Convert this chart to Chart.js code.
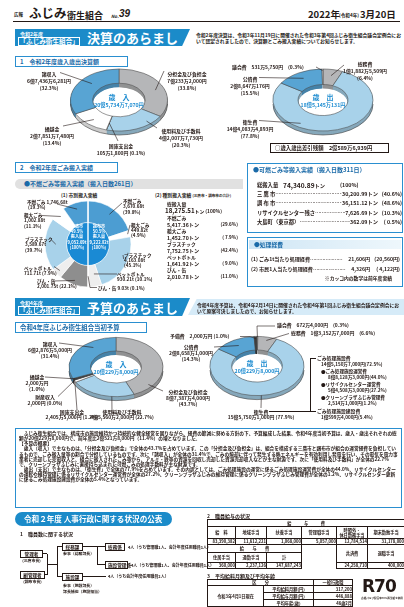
<!DOCTYPE html>
<html lang="ja"><head><meta charset="utf-8">
<script src="https://cdn.jsdelivr.net/npm/chart.js"></script>
<style>
html,body{margin:0;padding:0;background:#fff;}
#page{position:relative;width:404px;height:607px;overflow:hidden;font-family:"Noto Sans CJK JP","Noto Sans",sans-serif;color:#231815;}
canvas{position:absolute;}
table{border-collapse:collapse;table-layout:fixed;font-weight:700;}
td{border:0.6px solid #231815;text-align:center;padding:0;line-height:1.05;overflow:hidden;}
</style></head><body><div id="page"></div>
<script>
// ================= DATA =================
const rev20Cats = ['分担金及び負担金','使用料及び手数料','国庫支出金','繰越金','諸収入'];
const rev20Amt  = ['7億233万2,000円','4億2,007万7,730円','105万1,800円','2億7,851万7,480円','6億7,436万6,281円'];
const rev20Pct  = [33.8, 20.3, 0.1, 13.4, 32.3];
const rev20Total = '20億5,734万7,070円';

const exp20Cats = ['総務費','衛生費','公債費','議会費'];
const exp20Amt  = ['1億1,882万5,509円','14億4,083万4,893円','2億8,647万176円','531万5,750円'];
const exp20Pct  = [6.4, 77.8, 15.5, 0.3];
const exp20Total = '18億5,145万131円';
const balance20 = '2億589万6,939円';

const wasteCats = ['不燃ごみ','粗大ごみ','プラスチック','ペットボトル','びん・缶'];
const chofuTon  = ['3,670.68','449.82','4,163.08','930.21','9.03'];
const chofuPct  = [39.8, 4.9, 45.1, 10.1, 0.1];
const mitakaTon = ['1,746.68','1,002.88','3,589.67','711.71','2,001.75'];
const mitakaPct = [19.3, 11.1, 39.7, 7.9, 22.1];
const cityNames = ['三鷹市','調布市'];
const cityShare = [49.5, 50.5];
const cityTon   = ['9,052.69','9,222.82'];
const wasteTotalTon = '18,275.51';
const wasteSumTon = ['5,417.36','1,452.70','7,752.75','1,641.92','2,010.78'];
const wasteSumPct = [29.6, 7.9, 42.4, 9.0, 11.0];

const burnCats = ['三 鷹 市','調 布 市','リサイクルセンター残さ','大島町（東京都）'];
const burnTon  = ['30,200.99','36,151.12','7,626.69','362.09'];
const burnPct  = [40.6, 48.6, 10.3, 0.5];
const burnTotal = '74,340.89';

const costCats = ['(1) ごみ1t当たり処理経費','(2) 市民1人当たり処理経費'];
const costNow  = ['21,606円','4,326円'];
const costPrev = ['20,560円',' 4,122円'];

const rev22Cats = ['分担金及び負担金','使用料及び手数料','国庫支出金','財産収入','繰越金','諸収入'];
const rev22Amt  = ['8億7,387万4,000円','4億5,560万2,000円','2,405万5,000円','2,000円','2,000万円','6億2,876万5,000円'];
const rev22Pct  = [43.7, 22.7, 1.2, 0.0, 1.0, 31.4];
const budgetTotal = '20億229万8,000円';

const exp22Cats = ['議会費','総務費','衛生費','公債費','予備費'];
const exp22Amt  = ['672万4,000円','1億3,152万7,000円','15億5,750万1,000円','2億8,658万1,000円','2,000万円'];
const exp22Pct  = [0.3, 6.6, 77.9, 14.3, 1.0];
const sanitItems = ['ごみ処理施設費','ごみ処理施設建設費'];
const sanitAmt   = ['14億5,150万7,000円','1億599万4,000円'];
const sanitPct   = [72.5, 5.4];
const sanitSub    = ['ごみ処理施設運営費','リサイクルセンター運営費','クリーンプラザふじみ管理費'];
const sanitSubAmt = ['8億8,128万3,000円','5億4,508万3,000円','2,514万1,000円'];
const sanitSubPct = [44.0, 27.2, 1.2];

const payItems1 = ['給　料','地域手当','扶養手当','管理職手当','時間外・<br>休日勤務手当','期末勤勉手当'];
const payVals1  = ['83,390,382','11,612,221','1,068,000','5,057,000','12,784,514','31,178,000'];
const payItems2 = ['住居手当','通勤手当','計'];
const payVals2  = ['360,000','2,237,126','147,687,243'];
const payItems3 = ['共済費','退職手当'];
const payVals3  = ['24,258,710','400,000'];
const avgItems = ['平均給料月額(円)','平均給与月額(円)','平均年齢(歳)'];
const avgVals  = ['317,200','446,888','46歳2月'];

// ================= HELPERS =================
const page = document.getElementById('page');
const INK = '#231815', BLUE = '#1b8bc9', DBLUE = '#1a6aa8';
const GREY = '#b5b6b8', LBLUE = '#a8d2ea', MBLUE = '#58a4d3', WHITE = '#ffffff', DARK = '#3c3c3c';
function el(css, html){ const d=document.createElement('div'); Object.assign(d.style,{position:'absolute'},css); if(html!=null) d.innerHTML=html; page.appendChild(d); return d; }
function T(x,y,html,fs,o={}){
  const css={left:x+'px',top:y+'px',fontSize:fs+'px',lineHeight:(o.lh||fs)+'px',whiteSpace:'nowrap',fontWeight:o.w||700,color:o.c||INK};
  if(o.center){css.transform='translateX(-50%)';css.textAlign='center';}
  if(o.right){css.transform='translateX(-100%)';css.textAlign='right';}
  Object.assign(css,o.css||{});
  return el(css,html);
}
function L(x1,y1,x2,y2,c=INK,w=0.6){
  if (y1===y2) el({left:Math.min(x1,x2)+'px',top:(y1-w/2)+'px',width:Math.abs(x2-x1)+'px',height:w+'px',background:c});
  else el({left:(x1-w/2)+'px',top:Math.min(y1,y2)+'px',width:w+'px',height:Math.abs(y2-y1)+'px',background:c});
}
function B(x,y,w,h,css){ return el(Object.assign({left:x+'px',top:y+'px',width:w+'px',height:h+'px',boxSizing:'border-box'},css)); }
const pct = v => '(' + v.toFixed(1) + '%)';

function shade(hex,f){ const n=parseInt(hex.slice(1),16); return 'rgb('+Math.round((n>>16)*f)+','+Math.round(((n>>8)&255)*f)+','+Math.round((n&255)*f)+')'; }

function makePlugin(o){
  return {
    id:'pie3d',
    beforeDatasetsDraw(chart){
      const arcs=chart.getDatasetMeta(0).data, ctx=chart.ctx, a0=arcs[0];
      const cx=a0.x, cy=a0.y, k=o.k||1;
      ctx.save();
      ctx.translate(cx,cy); ctx.scale(1,k); ctx.translate(-cx,-cy);
      const bg=chart.data.datasets[0].backgroundColor;
      if(o.depth){
        for(let d=o.depth; d>0; d-=0.5){
          arcs.forEach((a,i)=>{
            if(a.endAngle-a.startAngle<=0) return;
            ctx.beginPath();
            ctx.arc(a.x,a.y+d/k,a.outerRadius,a.startAngle,a.endAngle);
            ctx.arc(a.x,a.y+d/k,a.innerRadius,a.endAngle,a.startAngle,true);
            ctx.closePath(); ctx.fillStyle=shade(bg[i],0.8); ctx.fill();
          });
        }
        ctx.beginPath(); ctx.arc(cx,cy+o.depth/k,a0.outerRadius,0,Math.PI);
        ctx.lineWidth=0.8; ctx.strokeStyle='#4d4d4d'; ctx.stroke();
      }
      if(o.hub){ ctx.beginPath(); ctx.arc(cx,cy,a0.innerRadius,0,Math.PI*2); ctx.fillStyle=o.hub; ctx.fill(); }
    },
    afterDatasetsDraw(chart){
      const ctx=chart.ctx; ctx.restore();
      const arcs=chart.getDatasetMeta(0).data, a0=arcs[0], cx=a0.x, cy=a0.y, k=o.k||1;
      if(o.split){ ctx.save(); ctx.strokeStyle='#fff'; ctx.lineWidth=o.split; ctx.beginPath();
        ctx.moveTo(cx,cy-a0.outerRadius-1); ctx.lineTo(cx,cy+a0.outerRadius+1); ctx.stroke(); ctx.restore(); }
      (o.leaders||[]).forEach(ld=>{
        const a=arcs[ld.i];
        const th=a.startAngle+(a.endAngle-a.startAngle)*(ld.f==null?0.5:ld.f);
        const r=a.innerRadius+(a.outerRadius-a.innerRadius)*(ld.r==null?0.7:ld.r);
        ctx.save(); ctx.strokeStyle=INK; ctx.lineWidth=0.6; ctx.beginPath();
        ctx.moveTo(cx+Math.cos(th)*r, cy+Math.sin(th)*r*k);
        ld.p.forEach(([x,y])=>ctx.lineTo(x-o.ox,y-o.oy));
        ctx.stroke(); ctx.restore();
      });
    }
  };
}
function donut(cfg){
  const cv=document.createElement('canvas');
  const x=cfg.cx-cfg.w/2, y=cfg.cy-cfg.h/2;
  cv.width=cfg.w; cv.height=cfg.h;
  Object.assign(cv.style,{left:x+'px',top:y+'px',width:cfg.w+'px',height:cfg.h+'px'});
  page.appendChild(cv);
  const o=Object.assign({ox:x,oy:y},cfg);
  return new Chart(cv,{
    type:'doughnut',
    data:{labels:cfg.labels,datasets:[{data:cfg.data,backgroundColor:cfg.colors,borderColor:cfg.bc||'#4d4d4d',borderWidth:cfg.bw==null?0.7:cfg.bw}]},
    options:{responsive:false,animation:false,events:[],radius:cfg.R,cutout:cfg.cut,layout:{padding:0},
      plugins:{legend:{display:false},tooltip:{enabled:false}}},
    plugins:[makePlugin(o)]
  });
}

// ================= HEADER =================
T(14,12,'広報',4.5);
T(29,7,'ふじみ',12.5);
T(67,11,'衛生組合',9);
T(111,14,'No.',4.5,{css:{fontStyle:'italic'}});
T(119,9,'39',10,{css:{fontStyle:'italic',fontFamily:'"Liberation Sans",sans-serif'}});
T(308,10,'2022年',9.5);
T(339,13,'(令和4年)',4.6);
T(360,10,'3月20日',9.5);
L(13,21.5,400,21.5,INK,1.2);

// Banner 1
B(15,29,175,17,{background:BLUE,clipPath:'polygon(0 0,100% 0,95.5% 100%,0 100%)'});
T(20,30.5,'令和2年度',5,{c:'#fff'});
T(18,37,'「ふじみ衛生組合」',6.6,{c:'#fff',css:{border:'0.6px solid #fff',padding:'0 0.5px'}});
T(87,31,'決算のあらまし',13,{c:'#fff'});
T(196,31.5,'令和2年度決算は、令和3年11月19日に開催された令和3年第4回ふじみ衛生組合議会定例会において認定されましたので、決算額とごみ搬入実績についてお知らせします。',4.8,{lh:6,css:{whiteSpace:'normal',width:'206px'}});

// Section 1
T(15,56,'1　令和2年度歳入歳出決算額',6,{c:DBLUE,css:{border:'0.8px solid #2a8fd0',padding:'1.5px 4px',width:'113px',boxSizing:'border-box'}});

// Chart 1 – 2020 revenue
donut({cx:119,cy:100,w:200,h:110,R:48.5,cut:'54%',k:0.64,depth:4,labels:rev20Cats,data:rev20Pct,
  colors:[GREY,LBLUE,WHITE,WHITE,MBLUE],
  leaders:[{i:4,f:.6,r:.5,p:[[60,72.5]]},{i:0,f:.55,r:.6,p:[[164,71]]},{i:1,f:.25,r:.75,p:[[157,128]]},
           {i:2,f:.5,r:.5,p:[[118,141]]},{i:3,f:.5,r:.6,p:[[63,126]]}]});
const lab3 = (cx,top,cats,amts,pcts,i)=>T(cx,top,cats[i]+'<br>'+amts[i]+'<br>'+pct(pcts[i]),4.9,{lh:7,center:true});
lab3(49,69.5,rev20Cats,rev20Amt,rev20Pct,4);
lab3(187,69.5,rev20Cats,rev20Amt,rev20Pct,0);
lab3(181,126.5,rev20Cats,rev20Amt,rev20Pct,1);
lab3(52,125,rev20Cats,rev20Amt,rev20Pct,3);
T(121,141.5,rev20Cats[2]+'<br>'+rev20Amt[2]+' '+pct(rev20Pct[2]),4.9,{lh:7,center:true});
T(119,93.5,'歳　入',7,{center:true,c:'#1b8bd0'});
T(119,101.5,rev20Total,5.2,{center:true,c:'#1b8bd0'});

// Chart 2 – 2020 expenditure
donut({cx:323,cy:100,w:160,h:110,R:50,cut:'50%',k:0.62,depth:4,labels:exp20Cats,data:exp20Pct,
  colors:[GREY,LBLUE,MBLUE,WHITE],
  leaders:[{i:3,f:.5,r:.9,p:[[316,67]]},{i:0,f:.5,r:.6,p:[[344,65]]},{i:2,f:.5,r:.6,p:[[259,77.5]]},{i:1,f:.67,r:.75,p:[[259,120.5]]}]});
T(232,64.5,exp20Cats[3]+'　'+exp20Amt[3]+'　'+pct(exp20Pct[3]),4.9);
lab3(365,60,exp20Cats,exp20Amt,exp20Pct,0);
lab3(250,74.5,exp20Cats,exp20Amt,exp20Pct,2);
lab3(250,117.5,exp20Cats,exp20Amt,exp20Pct,1);
T(323,93.5,'歳　出',7,{center:true,c:'#1b8bd0'});
T(323,101.5,exp20Total,5.2,{center:true,c:'#1b8bd0'});
T(270,143,'○歳入歳出差引残額　'+balance20,5.4,{css:{border:'0.7px solid #231815',padding:'1.5px 4px',width:'119px',boxSizing:'border-box'}});

// Section 2
T(15,162,'2　令和2年度ごみ搬入実績',6,{c:DBLUE,css:{border:'0.8px solid #2a8fd0',padding:'1.5px 4px',width:'103px',boxSizing:'border-box'}});
B(15,179,228,10,{background:'#e1e1e1',borderRadius:'5px 0 0 5px'});
T(24,181,'●不燃ごみ等搬入実績（搬入日数261日）',6,{c:DBLUE});
T(61,193,'(1) 市別搬入実績',4.8);
T(155,193,'(2) 種別搬入実績 <span style="font-size:3.6px">(三鷹市・調布市の合計)</span>',4.8);

// Waste pie (right half = 調布市, left half = 三鷹市)
const wasteColors=['#4c9dd2','#ffffff','#a8d2ea','#eeeeee','#8e8e8e'];
donut({cx:88,cy:244,w:150,h:100,R:43,cut:'50%',k:1,depth:0,hub:'#1a8ad4',split:1.4,bc:'#ffffff',bw:0.6,
  labels:[...wasteCats,...wasteCats.slice().reverse()],
  data:[...chofuPct,...mitakaPct.slice().reverse()],
  colors:[...wasteColors,...wasteColors.slice().reverse()],
  leaders:[{i:9,f:.5,r:.7,p:[[57,204]]},{i:8,f:.5,r:.8,p:[[42,215.5]]},{i:7,f:.5,r:.5,p:[[51,239.5]]},
           {i:6,f:.5,r:.8,p:[[54,266.5]]},{i:5,f:.5,r:.8,p:[[53,281]]},
           {i:0,f:.5,r:.7,p:[[122,203]]},{i:1,f:.5,r:.9,p:[[130,225]]},{i:2,f:.4,r:.8,p:[[123,255]]},
           {i:3,f:.4,r:.42,p:[[117,274]]},{i:4,f:.5,r:.5,p:[[90,287.5],[97,287.5]]}]});
const WF=4.6, WL=5.4;
T(27,200,wasteCats[0]+' '+mitakaTon[0]+'t<br>&nbsp;'+pct(mitakaPct[0]),WF,{lh:WL});
T(24,213,wasteCats[1]+'<br>'+mitakaTon[1]+'t<br>'+pct(mitakaPct[1]),WF,{lh:WL});
T(25,237,wasteCats[2]+'<br>'+mitakaTon[2]+'t<br>'+pct(mitakaPct[2]),WF,{lh:WL});
T(24,265.5,wasteCats[3]+'<br>'+mitakaTon[3]+'t '+pct(mitakaPct[3]),WF,{lh:WL});
T(37,279,wasteCats[4]+'<br>'+mitakaTon[4]+'t '+pct(mitakaPct[4]),WF,{lh:WL});
T(123,199,wasteCats[0]+'<br>'+chofuTon[0]+'t<br>'+pct(chofuPct[0]),WF,{lh:WL});
T(131,222.5,wasteCats[1]+'<br>'+chofuTon[1]+'t<br>'+pct(chofuPct[1]),WF,{lh:WL});
T(124,252.5,wasteCats[2]+'<br>'+chofuTon[2]+'t<br>'+pct(chofuPct[2]),WF,{lh:WL});
T(117,271.5,wasteCats[3]+'<br>'+chofuTon[3]+'t '+pct(chofuPct[3]),WF,{lh:WL});
T(98,285.5,wasteCats[4]+' '+chofuTon[4]+'t '+pct(chofuPct[4]),WF);
T(77,224,cityNames[0]+'<br>'+cityShare[0]+'%<br>搬入量<br>'+cityTon[0]+'t<br>(100%)',4.1,{lh:5.2,center:true,c:'#fff'});
T(99,224,cityNames[1]+'<br>'+cityShare[1]+'%<br>搬入量<br>'+cityTon[1]+'t<br>(100%)',4.1,{lh:5.2,center:true,c:'#fff'});

// list (2)
T(167,202,'総搬入量',4.8);
T(165,207.5,wasteTotalTon+'<span style="font-size:4.8px">トン (100%)</span>',6.2);
wasteCats.forEach((c,i)=>{
  const y=216+i*13;
  T(167,y,c,4.8);
  T(167,y+6,wasteSumTon[i]+'トン',5.2);
  T(238,y+6.4,'('+(wasteSumPct[i]<10?'&nbsp;':'')+wasteSumPct[i].toFixed(1)+'%)',4.6,{right:true});
});

// Burnable box
B(247,163,156,70,{border:'1.4px solid #2a8fd0'});
T(253,167,'●可燃ごみ等搬入実績（搬入日数311日）',6,{c:DBLUE});
T(257,182.5,'総搬入量',5.3);
T(283,181.5,burnTotal+'<span style="font-size:5.3px">トン</span>',6.6);
T(340,182.5,'(100%)',5.3);
burnCats.forEach((c,i)=>{
  const y=191+i*9.3;
  el({left:'257px',top:y+'px',width:'145px',height:'6px',display:'flex',fontSize:'5.3px',lineHeight:'6px',fontWeight:700,whiteSpace:'nowrap',color:INK},
    '<span>'+c+'</span><span style="flex:1;overflow:hidden;letter-spacing:-0.5px">……………………………………</span><span>'+burnTon[i]+'トン</span><span style="width:24px;text-align:right">('+(burnPct[i]<10?'&nbsp;':'')+burnPct[i].toFixed(1)+'%)</span>');
});

// Cost box
B(247,237,156,50,{border:'1.4px solid #2a8fd0'});
B(249,240,152,9,{background:'linear-gradient(90deg,#cfe6f5,#eef7fc)'});
T(254,241.5,'●処理経費',5.8,{c:DBLUE});
costCats.forEach((c,i)=>{
  el({left:'251px',top:(256+i*9.5)+'px',width:'149px',height:'6px',display:'flex',fontSize:'5.1px',lineHeight:'6px',fontWeight:700,whiteSpace:'nowrap',color:INK},
    '<span>'+c+'</span><span style="flex:1;overflow:hidden;letter-spacing:-0.5px">…………………</span><span>'+costNow[i]+'</span><span style="width:30px;text-align:right">('+costPrev[i]+')</span>');
});
T(392,276,'※カッコ内の数字は前年度実績',4.8,{right:true});

// Banner 2
B(15,298,175,18,{background:BLUE,clipPath:'polygon(0 0,100% 0,95.5% 100%,0 100%)'});
B(188,299,216,16,{background:'#d6ebf8',clipPath:'polygon(4% 0,100% 0,100% 100%,0 100%)'});
T(20,299.5,'令和4年度',5,{c:'#fff'});
T(18,306,'「ふじみ衛生組合」',6.6,{c:'#fff',css:{border:'0.6px solid #fff',padding:'0 0.5px'}});
T(87,300.5,'予算のあらまし',13,{c:'#fff'});
T(197,301.5,'令和4年度予算は、令和4年2月14日に開催された令和4年第1回ふじみ衛生組合議会定例会において原案可決しましたので、お知らせします。',4.8,{lh:6,css:{whiteSpace:'normal',width:'204px'}});
T(15,322,'令和4年度ふじみ衛生組合当初予算',6.4,{c:DBLUE,css:{border:'0.8px solid #2a8fd0',padding:'1.5px 4px',width:'132px',boxSizing:'border-box'}});

// Chart 3 – 2022 budget revenue
donut({cx:116,cy:367,w:200,h:104,R:47,cut:'54%',k:0.63,depth:4,labels:rev22Cats,data:rev22Pct,
  colors:[GREY,LBLUE,WHITE,WHITE,DARK,MBLUE],
  leaders:[{i:5,f:.68,r:.6,p:[[59,343]]},{i:4,f:.5,r:.9,p:[[45,377]]},{i:3,f:.5,r:.95,p:[[58,396.5]]},
           {i:2,f:.5,r:1,p:[[77,410]]},{i:1,f:.34,r:1,p:[[112,413],[119,413]]},{i:0,f:.83,r:.8,p:[[163,391]]}]});
T(50,340.5,rev22Cats[5]+'<br>'+rev22Amt[5]+'<br>'+pct(rev22Pct[5]),4.9,{lh:6,center:true});
T(37,374,rev22Cats[4]+'<br>'+rev22Amt[4]+'<br>'+pct(rev22Pct[4]),4.9,{lh:6,center:true});
T(45,394,rev22Cats[3]+'<br>'+rev22Amt[3]+' '+pct(rev22Pct[3]),4.9,{lh:6,center:true});
T(72,408.5,rev22Cats[2]+'<br>'+rev22Amt[2]+' '+pct(rev22Pct[2]),4.9,{lh:5.5,center:true});
T(122,408.5,rev22Cats[1]+'<br>'+rev22Amt[1]+' '+pct(rev22Pct[1]),4.9,{lh:5.5,center:true});
T(188,389,rev22Cats[0]+'<br>'+rev22Amt[0]+'<br>'+pct(rev22Pct[0]),4.9,{lh:5.8,center:true});
T(116,360.5,'歳　入',7,{center:true,c:'#1b8bd0'});
T(116,368.5,budgetTotal,5.2,{center:true,c:'#1b8bd0'});

// Chart 4 – 2022 budget expenditure
donut({cx:257,cy:366,w:200,h:104,R:47,cut:'54%',k:0.63,depth:4,labels:exp22Cats,data:exp22Pct,
  colors:[WHITE,GREY,LBLUE,MBLUE,DARK],
  leaders:[{i:0,f:.5,r:.95,p:[[257,326],[275,326]]},{i:1,f:.5,r:.75,p:[[289,333.5]]},{i:4,f:.5,r:.85,p:[[250,336.5],[240,336.5]]},
           {i:3,f:.5,r:.55,p:[[214,347]]},{i:2,f:.535,r:1,p:[[261,408]]}]});
T(277,323,exp22Cats[0]+'　'+exp22Amt[0]+'　'+pct(exp22Pct[0]),4.9);
T(291,331,exp22Cats[1]+'　'+exp22Amt[1]+'　'+pct(exp22Pct[1]),4.9);
T(170,334,exp22Cats[4]+'　'+exp22Amt[4]+' '+pct(exp22Pct[4]),4.9);
T(191,344,exp22Cats[3]+'<br>'+exp22Amt[3]+'<br>'+pct(exp22Pct[3]),4.9,{lh:6,center:true});
T(261,408.5,exp22Cats[2]+'<br>'+exp22Amt[2]+' '+pct(exp22Pct[2]),4.9,{lh:5.5,center:true});
T(257,359.5,'歳　出',7,{center:true,c:'#1b8bd0'});
T(257,367.5,budgetTotal,5.2,{center:true,c:'#1b8bd0'});
// 衛生費 breakdown bracket
L(310,358.5,310,411.5); L(310,358.5,316,358.5); L(269,411.5,316,411.5);
T(317,356,sanitItems[0],4.8);
T(321,362,sanitAmt[0]+pct(sanitPct[0]),4.6);
sanitSub.forEach((s,i)=>{
  T(321,369+i*13,'●'+s,4.6);
  T(328,375+i*13,sanitSubAmt[i]+pct(sanitSubPct[i]),4.6);
});
T(317,409,sanitItems[1],4.8);
T(321,415,sanitAmt[1]+pct(sanitPct[1]),4.6);

// Text box
B(15,428,387,80,{border:'1px solid #2a8fd0'});
T(19,431,'<div style="text-indent:1em">ふじみ衛生組合では、構成市の施設維持かつ持続的な健全経営を図りながら、経費の節減に努める方針の下、予算編成した結果、令和4年度当初予算は、歳入・歳出それぞれの総額が20億229万8,000円で、前年度比2億521万8,000円（11.4%）の増となりました。</div>'+
 '<div>【予算の概要】</div>'+
 '<div style="text-indent:1em">歳入（収入）で主なものは、「分担金及び負担金」で全体の43.7%を占めています。この「分担金及び負担金」は、組合を構成する三鷹市と調布市が組合の運営経費を負担しているもので、ごみ搬入量等の割合で分担しているものです。次に「諸収入」が全体の31.4%で、ごみの焼却に伴って発生する熱エネルギーを有効利用し発電を行い、その電気を電力事業者に売却した売電収入と、組合に搬入されたごみ等から、アルミ・鉄等の資源を回収し売却した資源売却収入などが主な財源です。次に「使用料及び手数料」が全体の22.7%で、クリーンプラザふじみに直接持ち込まれた可燃ごみの処理手数料が主な財源です。</div>'+
 '<div style="text-indent:1em">歳出（支出）で主なものは、「衛生費」で全体の77.9%を占めています。その内訳としては、ごみ処理施設の運営に係るごみ処理施設運営費が全体の44.0%、リサイクルセンターの運転や維持管理に係るリサイクルセンター運営費が全体の27.2%、クリーンプラザふじみの維持管理に係るクリーンプラザふじみ管理費が全体の1.2%、リサイクルセンター更新に係るごみ処理施設建設費が全体の5.4%となっています。</div>',
 4.7,{lh:5.15,css:{whiteSpace:'normal',width:'379px'}});

// Personnel section
B(15,512,157,14,{background:BLUE,borderRadius:'7px'});
T(24,514.5,'令和２年度 人事行政に関する状況の公表',7.6,{c:'#fff'});
T(20,531,'1　職員数に関する状況',5);
const obox=(x,y,w,t)=>T(x,y,t,4.6,{css:{border:'1.4px double #231815',padding:'0.6px 2px',width:w+'px',boxSizing:'border-box',textAlign:'center'}});
obox(20,550,23,'管理者'); T(31.5,558.5,'(三鷹市長)',3.9,{center:true});
obox(20,571,25,'副管理者'); T(32.5,579.5,'(調布市長)',3.9,{center:true});
L(43,553.5,47,553.5); L(45,574.5,47,574.5); L(47,553.5,47,574.5); L(47,564,57,564);
L(57,546,57,576); L(57,546,62,546); L(57,576,62,576);
obox(62,543,21,'総務課'); T(63,551.5,'参事（総務課長）',3.9);
obox(62,573,21,'施設課'); T(63,581.5,'参事（施設課長）<br>課長補佐（施設担当）',3.9,{lh:6});
L(83,546,97,546); L(97,546,97,564); L(97,546,105,546); L(97,564,105,564);
obox(105,543,20,'総務係'); T(128,544.5,'4人（うち管理職1人、会計年度任用職員1人）',4);
obox(105,561,23,'施設管理係'); T(131,562.5,'4人（うち管理職1人、会計年度任用職員1人）',4);
L(83,576,106,576); T(108,574,'4人（うち会計年度任用職員2人）',4);

// Table 2
T(207,513,'2　職員給与の状況',5);
const w2=[28,31,35,35,31,37];
let h2='<table style="width:197px;font-size:4.2px"><colgroup>'+w2.map(w=>'<col style="width:'+w+'px">').join('')+'</colgroup>';
h2+='<tr style="height:7px"><td colspan="6">給　　　与　　　費</td></tr>';
h2+='<tr style="height:12px">'+payItems1.map(s=>'<td>'+s+'</td>').join('')+'</tr>';
h2+='<tr style="height:6px">'+payVals1.map(s=>'<td style="text-align:right">'+s+'</td>').join('')+'</tr>';
h2+='<tr style="height:8px"><td colspan="3">給　　与　　費</td><td rowspan="3" style="border-top:0.6px solid #231815;border-bottom:none"></td>'+payItems3.map(s=>'<td rowspan="2">'+s+'</td>').join('')+'</tr>';
h2+='<tr style="height:10px">'+payItems2.map(s=>'<td>'+s+'</td>').join('')+'</tr>';
h2+='<tr style="height:6px">'+payVals2.map(s=>'<td style="text-align:right">'+s+'</td>').join('')+payVals3.map(s=>'<td style="text-align:right">'+s+'</td>').join('')+'</tr></table>';
el({left:'207px',top:'519px'},h2);

// Table 3
T(207,573,'3　平均給料月額及び平均年齢',5);
let h3='<table style="width:145px;font-size:4.2px"><colgroup><col style="width:56px"><col style="width:50px"><col style="width:39px"></colgroup>';
h3+='<tr style="height:6px"><td colspan="2">区　　分</td><td>一般行政職</td></tr>';
avgItems.forEach((s,i)=>{ h3+='<tr style="height:7px">'+(i===0?'<td rowspan="3">令和3年4月1日現在</td>':'')+'<td>'+s+'</td><td style="text-align:right">'+avgVals[i]+'</td></tr>'; });
h3+='</table>';
el({left:'207px',top:'579px'},h3);

// R70 logo
T(362,578,'R70',17,{css:{fontFamily:'"DejaVu Sans",sans-serif',letterSpacing:'-1px'}});
T(382,597,'古紙パルプ配合率70%再生紙を使用',2.6,{center:true});
</script></body></html>
